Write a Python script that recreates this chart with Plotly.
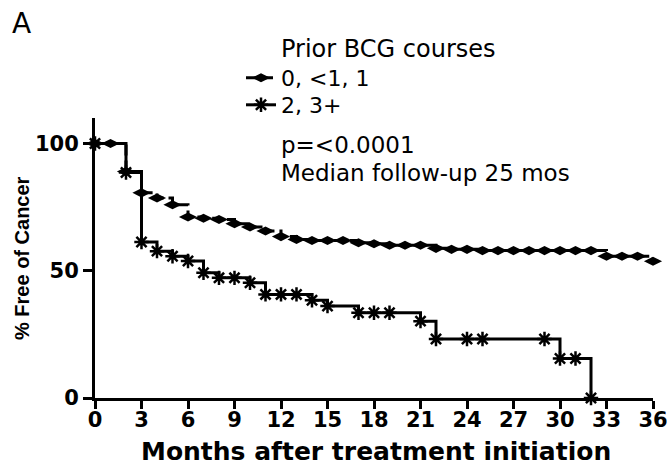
import plotly.graph_objects as go

# Group 1: prior BCG courses 0, <1, 1 (dashed, diamonds)
months_g1 = [0, 1, 2, 3, 4, 5, 6, 7, 8, 9, 10, 11, 12, 13, 14, 15, 16, 17, 18,
             19, 20, 21, 22, 23, 24, 25, 26, 27, 28, 29, 30, 31, 32, 33, 34, 35, 36]
free_g1 = [100, 100, 89, 80.6, 78.6, 75.9, 71.1, 70.6, 70.1, 68.5, 67.2, 65.6, 63.4,
           62.3, 61.9, 61.9, 61.9, 61.0, 60.6, 60.0, 60.0, 60.0, 58.8, 58.4, 58.4,
           57.9, 57.9, 57.9, 57.9, 57.9, 57.9, 57.9, 57.9, 55.7, 55.7, 55.7, 53.7]

# Group 2: prior BCG courses 2, 3+ (solid, asterisks)
months_g2 = [0, 2, 3, 4, 5, 6, 7, 8, 9, 10, 11, 12, 13, 14, 15, 17, 18, 19, 21, 22,
             24, 25, 29, 30, 31, 32]
free_g2 = [100, 88.6, 61.3, 57.7, 55.7, 53.8, 49.2, 47.2, 47.2, 45.3, 40.7, 40.7,
           40.7, 38.4, 36.1, 33.5, 33.5, 33.5, 30.2, 23.2, 23.2, 23.2, 23.2, 15.5,
           15.5, 0]

series_names = ["0, <1, 1", "2, 3+"]
x_ticks = list(range(0, 37, 3))
y_ticks = [0, 50, 100]

fig = go.Figure()
fig.add_trace(go.Scatter(
    x=months_g1, y=free_g1, name=series_names[0], mode="lines+markers",
    line=dict(shape="hv", color="black", width=3, dash="11px,5px"),
    marker=dict(symbol="diamond-wide", size=13, color="black"),
    cliponaxis=False, legend="legend"))
fig.add_trace(go.Scatter(
    x=months_g2, y=free_g2, name=series_names[1], mode="lines+markers",
    line=dict(shape="hv", color="black", width=3),
    marker=dict(symbol="asterisk-open", size=12, color="black",
                line=dict(color="black", width=2.5)),
    cliponaxis=False, legend="legend2"))

W, H = 667, 469
L, R, T, B = 95, 14, 118, 71
pw, ph = W - L - R, H - T - B


def px(x):
    return (x - L) / pw


def py(y):
    return (H - B - y) / ph


tick_font = dict(family="DejaVu Sans", size=21, color="black", weight="bold")
leg_common = dict(xanchor="left", yanchor="middle",
                  font=dict(family="DejaVu Sans", size=22, color="black"),
                  bgcolor="rgba(0,0,0,0)", itemsizing="trace")

fig.update_layout(
    template="none",
    width=W, height=H,
    margin=dict(l=L, r=R, t=T, b=B),
    paper_bgcolor="white", plot_bgcolor="white",
    showlegend=True,
    legend=dict(x=px(241), y=py(78), **leg_common),
    legend2=dict(x=px(241), y=py(105), **leg_common),
    xaxis=dict(range=[0, 36], tickvals=x_ticks, ticktext=[str(v) for v in x_ticks],
               showline=True, linecolor="black", linewidth=3, ticks="outside",
               ticklen=8, tickwidth=3, tickcolor="black", showgrid=False,
               zeroline=False, tickfont=tick_font, ticklabeloverflow="allow",
               ticklabelstandoff=-7, automargin=False),
    yaxis=dict(range=[0, 110], tickvals=y_ticks, ticktext=[str(v) for v in y_ticks],
               showline=True, linecolor="black", linewidth=3, ticks="outside",
               ticklen=9, tickwidth=3, tickcolor="black", showgrid=False,
               zeroline=False, tickfont=tick_font, automargin=False),
)

norm = dict(family="DejaVu Sans", size=23, color="black")
anns = [
    dict(text="A", x=px(10), y=py(23), xanchor="left", yanchor="middle",
         font=dict(family="DejaVu Sans", size=28, color="black")),
    dict(text="Prior BCG courses", x=px(279), y=py(49), xanchor="left",
         yanchor="middle", font=dict(family="DejaVu Sans", size=24, color="black")),
    dict(text="p=<0.0001", x=px(279), y=py(145), xanchor="left", yanchor="middle",
         font=norm),
    dict(text="Median follow-up 25 mos", x=px(279), y=py(173), xanchor="left",
         yanchor="middle", font=norm),
    dict(text="Months after treatment initiation", x=px(376), y=py(451),
         xanchor="center", yanchor="middle",
         font=dict(family="DejaVu Sans", size=25, color="black", weight="bold")),
    dict(text="% Free of Cancer", x=px(22), y=0.5, textangle=-90,
         xanchor="center", yanchor="middle",
         font=dict(family="Liberation Sans", size=20, color="black", weight="bold")),
]
for a in anns:
    a.update(xref="paper", yref="paper", showarrow=False)
fig.update_layout(annotations=anns)

fig.write_html("out.html")
